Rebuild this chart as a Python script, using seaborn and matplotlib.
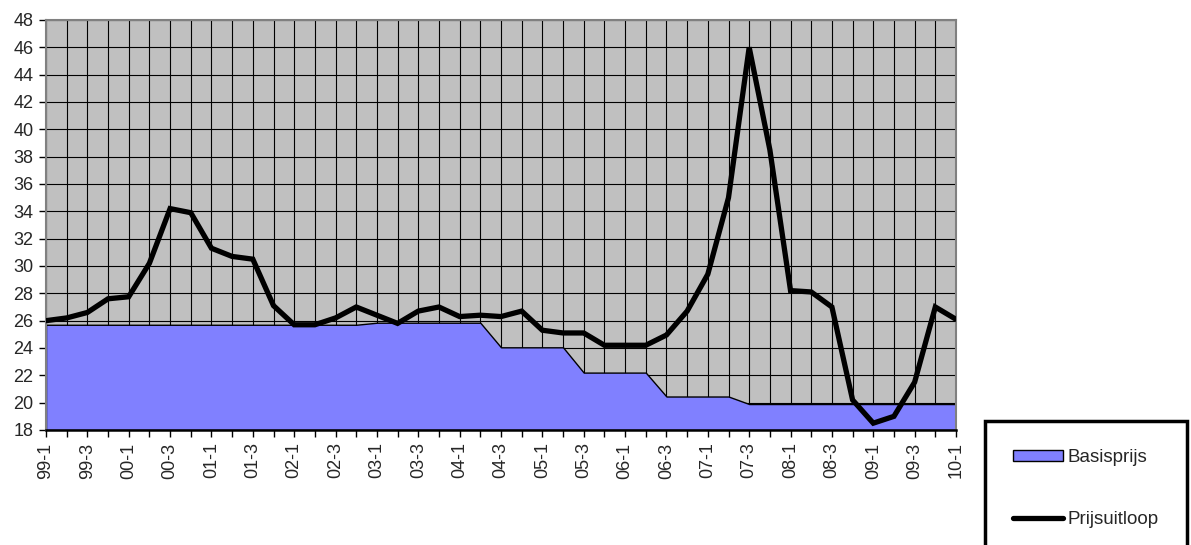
import matplotlib
matplotlib.use("Agg")
import matplotlib.pyplot as plt
import seaborn as sns
import pandas as pd
from matplotlib.patches import Patch
from matplotlib.lines import Line2D

# quarters from 99-1 up to 10-1
periods = ["99-1", "99-2", "99-3", "99-4",
           "00-1", "00-2", "00-3", "00-4",
           "01-1", "01-2", "01-3", "01-4",
           "02-1", "02-2", "02-3", "02-4",
           "03-1", "03-2", "03-3", "03-4",
           "04-1", "04-2", "04-3", "04-4",
           "05-1", "05-2", "05-3", "05-4",
           "06-1", "06-2", "06-3", "06-4",
           "07-1", "07-2", "07-3", "07-4",
           "08-1", "08-2", "08-3", "08-4",
           "09-1", "09-2", "09-3", "09-4",
           "10-1"]

basisprijs = [25.7, 25.7, 25.7, 25.7, 25.7, 25.7, 25.7, 25.7,
              25.7, 25.7, 25.7, 25.7, 25.7, 25.7, 25.7, 25.7,
              25.85, 25.85, 25.85, 25.85, 25.85, 25.85,
              24.05, 24.05, 24.05, 24.05,
              22.2, 22.2, 22.2, 22.2,
              20.45, 20.45, 20.45, 20.45,
              19.9, 19.9, 19.9, 19.9, 19.9, 19.9, 19.9, 19.9, 19.9, 19.9, 19.9]

prijsuitloop = [26.0, 26.2, 26.6, 27.6, 27.75, 30.2, 34.2, 33.9, 31.3, 30.7,
                30.5, 27.1, 25.7, 25.7, 26.2, 27.0, 26.4, 25.8, 26.7, 27.0,
                26.3, 26.4, 26.3, 26.7, 25.3, 25.1, 25.1, 24.2, 24.2, 24.2,
                24.95, 26.7, 29.4, 35.0, 46.0, 38.5, 28.2, 28.1, 27.0, 20.2,
                18.5, 19.0, 21.5, 27.0, 26.1]

df = pd.DataFrame({"pos": range(len(periods)), "periode": periods,
                   "Basisprijs": basisprijs, "Prijsuitloop": prijsuitloop})

sns.set_style("ticks")
plt.rcParams['font.family'] = ['Liberation Sans', 'DejaVu Sans']

fig = plt.figure(figsize=(11.91, 5.45), dpi=100)
ax = fig.add_axes([46 / 1191, 1 - 430 / 545, (956 - 46) / 1191, (430 - 20) / 545])
ax.set_facecolor('#C0C0C0')

# blue area for the base price
ax.fill_between(df["pos"], 18, df["Basisprijs"], facecolor='#8080FF',
                edgecolor='black', linewidth=1, zorder=2)

# price line
sns.lineplot(data=df, x="pos", y="Prijsuitloop", color='black', linewidth=3.8,
             ax=ax, zorder=3, legend=False)
ax.lines[-1].set_solid_joinstyle('miter')

ax.set_xlim(0, len(periods) - 1)
ax.set_ylim(18, 48)
ax.set_yticks(range(18, 49, 2))
ax.set_xticks(df["pos"])
ax.set_xticklabels([p if i % 2 == 0 else "" for i, p in enumerate(periods)],
                   rotation=90)
ax.tick_params(axis='both', labelsize=13, direction='out', length=5, width=1,
               color='black', pad=4)
ax.set_xlabel("")
ax.set_ylabel("")

ax.set_axisbelow(True)
ax.grid(True, color='black', linewidth=0.8)

for side in ['top', 'left', 'right']:
    ax.spines[side].set_color('#808080')
    ax.spines[side].set_linewidth(1.5)
ax.spines['bottom'].set_color('black')
ax.spines['bottom'].set_linewidth(1.8)

handles = [Patch(facecolor='#8080FF', edgecolor='black', linewidth=1),
           Line2D([], [], color='black', linewidth=3.8)]
leg = fig.legend(handles, ["Basisprijs", "Prijsuitloop"], loc='upper left',
                 bbox_to_anchor=(985 / 1191, 1 - 421 / 545), fontsize=13.5,
                 frameon=True, fancybox=False, framealpha=1, edgecolor='black',
                 borderpad=1.5, labelspacing=2.4, handlelength=2.65,
                 handleheight=0.55, handletextpad=0.25, borderaxespad=0)
leg.get_frame().set_linewidth(2.5)

fig.savefig("out.png", dpi=100)
